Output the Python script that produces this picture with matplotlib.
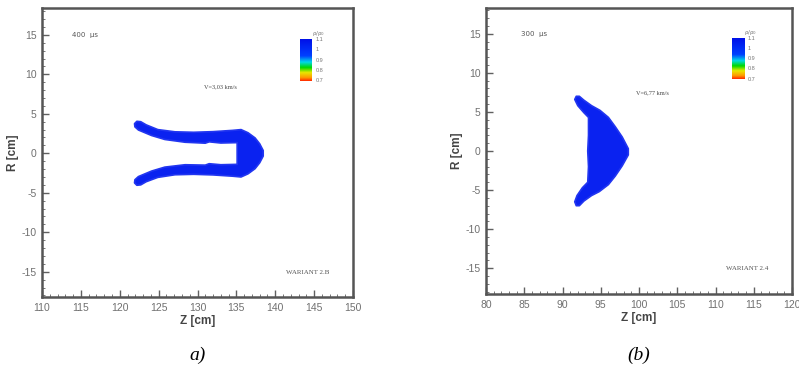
import numpy as np
import matplotlib
matplotlib.use("Agg")
import matplotlib.pyplot as plt
from matplotlib.colors import LinearSegmentedColormap
from matplotlib.ticker import MultipleLocator

plt.rcParams["axes.unicode_minus"] = False

# ---------------- data ----------------
# panel a: fork-shaped jet outline (Z [cm], R [cm])
a_z = [121.9, 122.2, 122.7, 123.4, 124.9, 127.1, 129.5, 132.0, 134.5, 135.6, 136.5, 137.4, 138.0, 138.45, 138.45,
       138.0, 137.4, 136.5, 135.6, 134.5, 132.0, 129.5, 127.1, 124.9, 123.4, 122.7, 122.2, 121.9,
       121.95, 122.4, 124.1, 125.8, 128.4, 131.0, 131.5, 133.0, 135.1,
       135.1, 133.0, 131.5, 131.0, 128.4, 125.8, 124.1, 122.4, 121.95]
a_r = [3.75, 4.05, 4.0, 3.6, 3.0, 2.72, 2.66, 2.74, 2.9, 3.0, 2.6, 1.95, 1.2, 0.35, -0.35,
       -1.2, -1.95, -2.6, -3.0, -2.9, -2.74, -2.66, -2.72, -3.05, -3.6, -4.0, -4.05, -3.75,
       -3.35, -2.95, -2.25, -1.75, -1.45, -1.5, -1.32, -1.45, -1.4,
       1.35, 1.3, 1.45, 1.28, 1.4, 1.75, 2.25, 2.95, 3.35]

# panel b: arrow-head shaped jet outline
b_z = [91.8, 92.2, 92.8, 93.8, 94.9, 96.0, 96.9, 97.8, 98.6, 98.6, 97.8, 96.9, 96.0, 94.8, 93.8, 92.8, 92.2, 91.8,
       91.6, 91.9, 92.6, 93.3, 93.4, 93.3, 93.4, 93.4, 92.8, 92.0, 91.6]
b_r = [7.0, 7.0, 6.5, 5.8, 5.2, 4.3, 3.1, 1.8, 0.3, -0.5, -1.9, -3.2, -4.3, -5.2, -5.7, -6.4, -7.0, -7.0,
       -6.5, -5.7, -4.7, -4.0, -2.0, 0.0, 2.0, 4.3, 4.9, 5.8, 6.6]

cbar_ticks = [1.1, 1.0, 0.9, 0.8, 0.7]
cbar_labels = ["1.1", "1", "0.9", "0.8", "0.7"]

panels = [
    dict(z=a_z, r=a_r, xlim=(110, 150), ylim=(-18.2, 18.4), xticks=np.arange(110, 151, 5),
         time="400  μs", vel="V=3,03 km/s", vel_pos=(133.0, 8.4), war="WARIANT 2.B", war_pos=(144.2, -15.1),
         time_pos=(113.8, 15.0), cbar=(143.2, 9.2, 1.5, 5.2), rect=[42, 8, 353, 297], tag="a)"),
    dict(z=b_z, r=b_r, xlim=(80, 120), ylim=(-18.3, 18.3), xticks=np.arange(80, 121, 5),
         time="300  μs", vel="V=6,77 km/s", vel_pos=(101.7, 7.4), war="WARIANT 2.4", war_pos=(114.1, -15.0),
         time_pos=(84.6, 15.0), cbar=(112.1, 9.2, 1.6, 5.2), rect=[486, 8, 792, 294], tag="(b)"),
]

W, H = 799, 373
fig = plt.figure(figsize=(W / 100, H / 100), dpi=100)

cmap = LinearSegmentedColormap.from_list(
    "rho", [(0.0, "#ff2a00"), (0.08, "#ff9a00"), (0.2, "#e8e800"), (0.32, "#00d800"),
            (0.45, "#00d8e8"), (0.6, "#0040ff"), (1.0, "#0010e8")])

tick_color = "#707070"
for p in panels:
    l, t, r, b = p["rect"]
    ax = fig.add_axes([l / W, (H - b) / H, (r - l) / W, (b - t) / H])
    ax.fill(p["z"], p["r"], color="#0a22f0", lw=1.2, ec="#2236f0", joinstyle="round")
    ax.set_xlim(*p["xlim"])
    ax.set_ylim(*p["ylim"])
    ax.set_xticks(p["xticks"])
    ax.set_yticks([-15, -10, -5, 0, 5, 10, 15])
    ax.xaxis.set_minor_locator(MultipleLocator(1))
    ax.yaxis.set_minor_locator(MultipleLocator(1))
    ax.tick_params(which="both", direction="in", colors="#606060", labelcolor=tick_color,
                   labelsize=7.5, top=False, right=False)
    ax.tick_params(which="major", length=5, width=1.0, pad=4)
    ax.tick_params(which="minor", length=2.5, width=0.6)
    for lab in ax.get_xticklabels() + ax.get_yticklabels():
        lab.set_family("Liberation Sans")
    for s in ax.spines.values():
        s.set_color("#555555")
        s.set_linewidth(1.8)
    ax.set_xlabel("Z [cm]", fontsize=8.5, fontweight="bold", color="#444444",
                  family="Liberation Sans", labelpad=2)
    ax.set_ylabel("R [cm]", fontsize=8.5, fontweight="bold", color="#444444",
                  family="Liberation Sans", labelpad=2)

    ax.text(*p["time_pos"], p["time"], fontsize=5, color="#555555", family="DejaVu Sans",
            ha="left", va="center")
    ax.text(*p["vel_pos"], p["vel"], fontsize=4.5, color="#444444", family="Liberation Serif",
            ha="center", va="center")
    ax.text(*p["war_pos"], p["war"], fontsize=5, color="#555555", family="Liberation Serif",
            ha="center", va="center")

    cx, cy, cw, ch = p["cbar"]
    grad = np.linspace(0.7, 1.1, 200).reshape(-1, 1)
    ax.imshow(grad, extent=(cx, cx + cw, cy, cy + ch), origin="lower", cmap=cmap,
              vmin=0.7, vmax=1.1, aspect="auto", zorder=3)
    for v, s in zip(cbar_ticks, cbar_labels):
        yy = cy + (v - 0.7) / 0.4 * ch
        ax.text(cx + cw + 0.5, yy, s, fontsize=4, color="#777777", family="Liberation Sans",
                ha="left", va="center")
    ax.text(cx + cw + 0.9, cy + ch + 0.8, "ρ/ρ$_0$", fontsize=4, color="#777777",
            ha="center", va="center")
    ax.set_xlim(*p["xlim"])
    ax.set_ylim(*p["ylim"])

    fig.text(((l + r) / 2) / W, 1 - 355 / H, p["tag"], fontsize=14, style="italic",
             family="Liberation Serif", ha="center", va="center")

fig.savefig("out.png", dpi=100)
